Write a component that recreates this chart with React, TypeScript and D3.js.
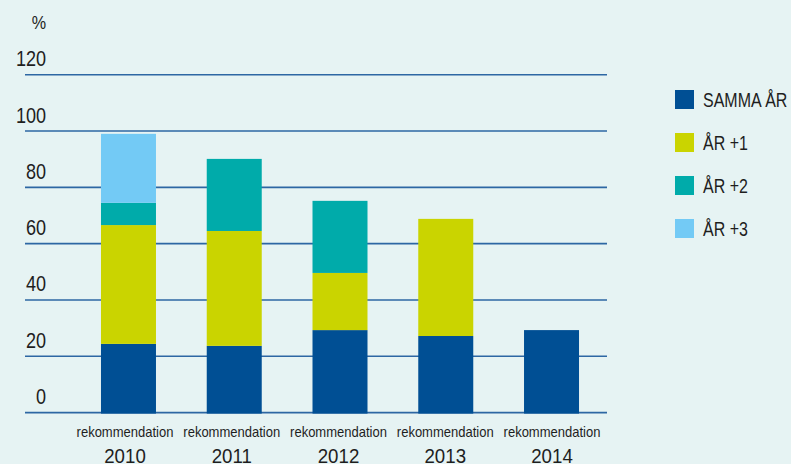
import React from "react";
import * as d3 from "d3";

const categories = ["2010", "2011", "2012", "2013", "2014"];
const categoryPrefix = "rekommendation";
const seriesNames = ["SAMMA ÅR", "ÅR +1", "ÅR +2", "ÅR +3"];
const sammaAr = [24.4, 23.7, 29.3, 27.2, 29.3];
const ar1 = [42.2, 40.8, 20.3, 41.6, 0];
const ar2 = [7.9, 25.6, 25.6, 0, 0];
const ar3 = [24.5, 0, 0, 0, 0];
const yTicks = [0, 20, 40, 60, 80, 100, 120];
const colors = ["#004f94", "#cad400", "#00abaa", "#73caf5"];

const W = 791;
const H = 464;
const FONT = "'Liberation Sans', Arial, sans-serif";

function T(props: {
  x: number;
  y: number;
  size: number;
  sx: number;
  anchor?: string;
  children: React.ReactNode;
}) {
  return (
    <text
      transform={`translate(${props.x},${props.y}) scale(${props.sx},1)`}
      fontSize={props.size}
      textAnchor={props.anchor || "start"}
      fill="#1e1e1e"
    >
      {props.children}
    </text>
  );
}

export default function App() {
  const y = d3.scaleLinear().domain([0, 120]).range([412.6, 74.7]);
  const x = d3
    .scaleBand<string>()
    .domain(categories)
    .range([75.6, 604.4])
    .paddingInner(0.48)
    .paddingOuter(0.24);
  const xl = d3.scalePoint<string>().domain(categories).range([125, 552]);

  const rows = categories.map((c, i) => ({
    cat: c,
    s0: sammaAr[i],
    s1: ar1[i],
    s2: ar2[i],
    s3: ar3[i],
  }));
  const stack = d3.stack<any>().keys(["s0", "s1", "s2", "s3"]);
  const layers = stack(rows);

  return (
    <svg
      width={W}
      height={H}
      style={{ position: "fixed", left: 0, top: 0, background: "#e6f3f3" }}
      fontFamily={FONT}
    >
      <rect x={0} y={0} width={W} height={H} fill="#e6f3f3" />
      <T x={39} y={29} size={19} sx={0.85} anchor="middle">%</T>
      {yTicks.map((t) => (
        <g key={t}>
          <line x1={25} x2={607} y1={y(t)} y2={y(t)} stroke="#2d67a3" strokeWidth={1.6} />
          <T x={46} y={y(t) - 8.5} size={21.5} sx={0.84} anchor="end">
            {t}
          </T>
        </g>
      ))}
      {layers.map((layer, li) => (
        <g key={li} fill={colors[li]}>
          {layer.map((d, i) =>
            d[1] - d[0] > 0 ? (
              <rect
                key={i}
                x={x(categories[i])}
                width={x.bandwidth()}
                y={y(d[1])}
                height={y(d[0]) - y(d[1]) + (li === 0 ? 1 : 0)}
              />
            ) : null
          )}
        </g>
      ))}
      {categories.map((c) => (
        <g key={c}>
          <T x={xl(c) as number} y={437} size={14} sx={0.93} anchor="middle">
            {categoryPrefix}
          </T>
          <T x={xl(c) as number} y={463} size={21} sx={0.89} anchor="middle">
            {c}
          </T>
        </g>
      ))}
      {seriesNames.map((n, i) => (
        <g key={n}>
          <rect x={675} y={90 + i * 43} width={19} height={19} fill={colors[i]} />
          <T x={703} y={107 + i * 43} size={19.5} sx={0.82}>
            {n}
          </T>
        </g>
      ))}
    </svg>
  );
}
